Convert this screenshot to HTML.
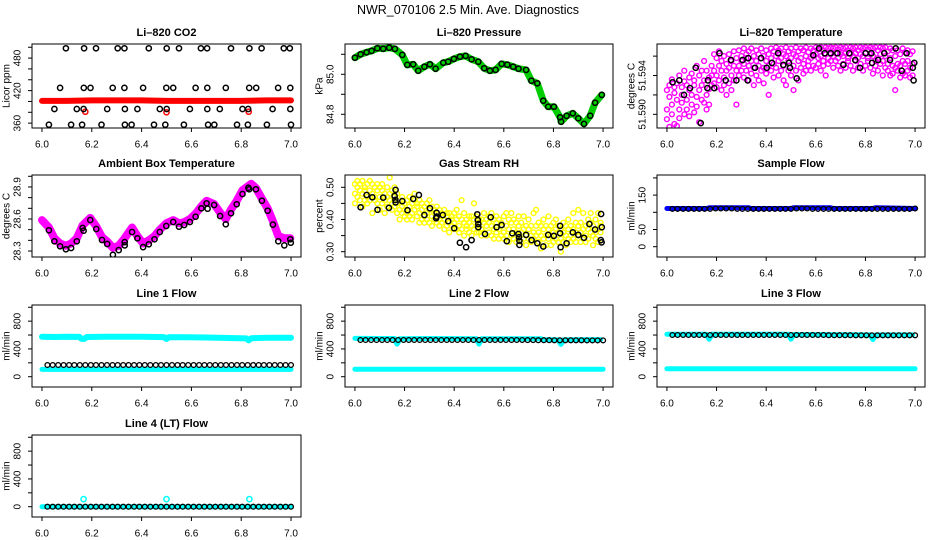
<!DOCTYPE html>
<html><head><meta charset="utf-8"><title>NWR_070106 Diagnostics</title>
<style>
html,body{margin:0;padding:0;background:#fff;}
svg{display:block;font-family:"Liberation Sans",Arial,sans-serif;}
</style></head>
<body>
<svg id="chart" width="936" height="540" viewBox="0 0 936 540" xmlns="http://www.w3.org/2000/svg">
<rect x="0" y="0" width="936" height="540" fill="#fff"/>
<text x="468" y="10" text-anchor="middle" dominant-baseline="central" font-size="12.5">NWR_070106  2.5 Min. Ave. Diagnostics</text>
</svg>
<script>
// ---------------- DATA ----------------
const xTicks = [6.0, 6.2, 6.4, 6.6, 6.8, 7.0];
const xTickLabels = ["6.0", "6.2", "6.4", "6.6", "6.8", "7.0"];

// CO2
const co2RedT = [6.0, 6.1, 6.2, 6.3, 6.4, 6.5, 6.6, 6.7, 6.8, 6.9, 7.0];
const co2RedV = [401, 401, 402, 402, 402, 401, 401, 401, 401, 402, 402];
const co2RedPtsT = [6.174, 6.50, 6.83];
const co2RedPtsV = [381, 380, 381];
const co2BlackT = [6.096,6.169,6.217,6.304,6.331,6.429,6.501,6.550,6.638,6.663,6.759,6.833,6.882,6.971,6.995,
 6.073,6.168,6.195,6.284,6.331,6.406,6.499,6.527,6.617,6.664,6.738,6.832,6.860,6.948,6.997,
 6.050,6.140,6.167,6.262,6.333,6.383,6.473,6.501,6.594,6.664,6.714,6.805,6.828,6.926,6.997,
 6.028,6.117,6.161,6.239,6.333,6.360,6.450,6.495,6.570,6.667,6.692,6.783,6.827,6.903,7.000];
const co2BlackV = [498,498,498,498,498,498,498,498,498,498,498,498,498,498,498,
 425,425,425,425,425,425,425,425,425,425,425,425,425,425,425,
 386,386,386,386,386,386,386,386,386,386,386,386,386,386,386,
 357,357,357,357,357,357,357,357,357,357,357,357,357,357,357];

// Pressure
const presT = [6.000,6.023,6.047,6.067,6.090,6.114,6.138,6.161,6.191,6.211,6.235,6.255,6.280,6.302,6.325,6.356,6.376,6.399,6.423,6.446,6.470,6.497,6.521,6.544,6.567,6.591,6.614,6.638,6.659,6.690,6.711,6.735,6.759,6.779,6.802,6.827,6.831,6.853,6.878,6.900,6.923,6.948,6.968,6.995];
const presV = [85.083,85.100,85.110,85.117,85.130,85.128,85.133,85.127,85.097,85.047,85.050,85.018,85.038,85.050,85.028,85.058,85.063,85.077,85.088,85.092,85.075,85.063,85.030,85.018,85.022,85.052,85.048,85.038,85.028,85.022,84.968,84.955,84.868,84.838,84.838,84.785,84.763,84.792,84.805,84.780,84.752,84.793,84.858,84.897];

// Li-820 temperature
const tempBlackT = [6.023,6.050,6.069,6.093,6.116,6.136,6.163,6.165,6.191,6.212,6.237,6.258,6.280,6.305,6.325,6.328,6.355,6.379,6.402,6.423,6.448,6.469,6.492,6.496,6.523,6.590,6.613,6.636,6.660,6.687,6.711,6.735,6.759,6.778,6.801,6.824,6.827,6.851,6.876,6.899,6.922,6.946,6.966,6.991,6.994,6.997];
const tempBlackV = [51.5933,51.5935,51.5920,51.5927,51.5948,51.5891,51.5927,51.5935,51.5927,51.5963,51.5935,51.5956,51.5935,51.5956,51.5935,51.5958,51.5948,51.5958,51.5948,51.5953,51.5963,51.5951,51.5953,51.5948,51.5937,51.5961,51.5968,51.5963,51.5963,51.5963,51.5951,51.5963,51.5956,51.5948,51.5963,51.5963,51.5953,51.5956,51.5963,51.5956,51.5968,51.5945,51.5963,51.5948,51.5935,51.5953];
const tempCloudT = [6.00,6.01,6.02,6.03,6.04,6.05,6.06,6.07,6.08,6.09,6.10,6.11,6.12,6.13,6.14,6.15,6.16,6.17,6.18,6.19,6.20,6.21,6.22,6.23,6.24,6.25,6.26,6.27,6.28,6.29,6.30,6.31,6.32,6.33,6.34,6.35,6.36,6.37,6.38,6.39,6.40,6.41,6.42,6.43,6.44,6.45,6.46,6.47,6.48,6.49,6.50,6.51,6.52,6.53,6.54,6.55,6.56,6.57,6.58,6.59,6.60,6.61,6.62,6.63,6.64,6.65,6.66,6.67,6.68,6.69,6.70,6.71,6.72,6.73,6.74,6.75,6.76,6.77,6.78,6.79,6.80,6.81,6.82,6.83,6.84,6.85,6.86,6.87,6.88,6.89,6.90,6.91,6.92,6.93,6.94,6.95,6.96,6.97,6.98,6.99];
const tempCloudV = [
[51.5925,51.5905,51.5895],[51.5930,51.5918,51.5887],[51.5936,51.5910,51.5900],[51.5922,51.5890,51.5928],[51.5915,51.5932,51.5888],
[51.5940,51.5905,51.5896],[51.5928,51.5912,51.5920],[51.5934,51.5900,51.5945],[51.5930,51.5915,51.5905],[51.5925,51.5938,51.5898],
[51.5942,51.5910,51.5920],[51.5930,51.5935,51.5902],[51.5950,51.5918,51.5908],[51.5940,51.5925,51.5892],[51.5945,51.5930,51.5915],
[51.5955,51.5935,51.5912],[51.5945,51.5920,51.5905],[51.5938,51.5926,51.5910],[51.5950,51.5940,51.5930],[51.5945,51.5962,51.5932],
[51.5958,51.5940,51.5928],[51.5950,51.5935,51.5965],[51.5945,51.5925,51.5955],[51.5960,51.5938,51.5930],[51.5952,51.5920,51.5945],
[51.5962,51.5948,51.5932],[51.5955,51.5940,51.5925],[51.5965,51.5950,51.5935],[51.5958,51.5945,51.5910],[51.5966,51.5950,51.5940],
[51.5960,51.5945,51.5955],[51.5968,51.5952,51.5938],[51.5958,51.5962,51.5945],[51.5965,51.5950,51.5935],[51.5968,51.5955,51.5942],
[51.5960,51.5948,51.5930],[51.5966,51.5955,51.5940],[51.5962,51.5950,51.5935],[51.5968,51.5958,51.5945],[51.5960,51.5948,51.5932],
[51.5966,51.5955,51.5942],[51.5962,51.5950,51.5920],[51.5968,51.5958,51.5945],[51.5965,51.5952,51.5938],[51.5969,51.5960,51.5948],
[51.5966,51.5955,51.5940],[51.5968,51.5958,51.5945],[51.5962,51.5950,51.5935],[51.5969,51.5960,51.5930],[51.5965,51.5955,51.5945],
[51.5968,51.5958,51.5940],[51.5962,51.5950,51.5925],[51.5969,51.5960,51.5945],[51.5965,51.5955,51.5935],[51.5968,51.5958,51.5948],
[51.5966,51.5952,51.5942],[51.5969,51.5960,51.5945],[51.5964,51.5955,51.5950],[51.5968,51.5958,51.5945],[51.5966,51.5960,51.5950],
[51.5969,51.5962,51.5948],[51.5967,51.5958,51.5952],[51.5969,51.5960,51.5945],[51.5966,51.5955,51.5950],[51.5969,51.5962,51.5940],
[51.5968,51.5958,51.5952],[51.5969,51.5962,51.5955],[51.5968,51.5960,51.5948],[51.5969,51.5963,51.5955],[51.5967,51.5958,51.5950],
[51.5969,51.5962,51.5945],[51.5968,51.5960,51.5952],[51.5969,51.5963,51.5948],[51.5966,51.5958,51.5955],[51.5969,51.5962,51.5950],
[51.5968,51.5960,51.5945],[51.5969,51.5963,51.5955],[51.5966,51.5958,51.5948],[51.5969,51.5962,51.5952],[51.5968,51.5960,51.5945],
[51.5969,51.5963,51.5950],[51.5967,51.5958,51.5955],[51.5969,51.5962,51.5948],[51.5968,51.5960,51.5942],[51.5969,51.5955,51.5950],
[51.5966,51.5958,51.5945],[51.5969,51.5962,51.5952],[51.5968,51.5955,51.5940],[51.5969,51.5960,51.5948],[51.5965,51.5952,51.5945],
[51.5968,51.5958,51.5940],[51.5966,51.5950,51.5942],[51.5960,51.5948,51.5925],[51.5966,51.5952,51.5945],[51.5962,51.5950,51.5938],
[51.5968,51.5955,51.5942],[51.5964,51.5952,51.5940],[51.5966,51.5955,51.5945],[51.5962,51.5948,51.5938],[51.5965,51.5952,51.5940]];

// Ambient box temperature
const ambBlackT = [6.028,6.050,6.073,6.096,6.117,6.140,6.163,6.167,6.194,6.218,6.241,6.262,6.285,6.308,6.332,6.332,6.362,6.383,6.406,6.429,6.452,6.473,6.499,6.527,6.550,6.571,6.594,6.617,6.640,6.661,6.665,6.691,6.715,6.738,6.759,6.782,6.805,6.829,6.832,6.859,6.883,6.906,6.927,6.949,6.973,6.997,6.999];
const ambBlackV = [28.494,28.391,28.344,28.316,28.328,28.391,28.516,28.490,28.591,28.506,28.403,28.366,28.265,28.309,28.353,28.384,28.478,28.419,28.337,28.363,28.410,28.478,28.534,28.572,28.528,28.544,28.572,28.621,28.700,28.747,28.696,28.731,28.628,28.550,28.653,28.738,28.834,28.893,28.878,28.878,28.771,28.678,28.547,28.391,28.353,28.410,28.378];
const ambBandT = [6.000,6.028,6.050,6.073,6.096,6.117,6.140,6.163,6.194,6.218,6.241,6.262,6.285,6.308,6.332,6.362,6.383,6.406,6.429,6.452,6.473,6.499,6.527,6.550,6.571,6.594,6.617,6.640,6.661,6.691,6.715,6.738,6.759,6.782,6.805,6.840,6.859,6.883,6.906,6.927,6.949,6.973,6.997];
const ambBandV = [28.590,28.520,28.420,28.370,28.350,28.370,28.420,28.540,28.610,28.530,28.430,28.390,28.330,28.350,28.420,28.520,28.440,28.370,28.400,28.440,28.500,28.560,28.590,28.560,28.570,28.600,28.650,28.720,28.770,28.740,28.660,28.600,28.690,28.770,28.870,28.930,28.890,28.790,28.700,28.580,28.440,28.420,28.420];

// Gas stream RH
const rhBlackT = [6.023,6.047,6.070,6.091,6.114,6.137,6.160,6.164,6.163,6.164,6.191,6.212,6.235,6.258,6.280,6.302,6.327,6.329,6.329,6.354,6.376,6.400,6.423,6.448,6.470,6.493,6.495,6.497,6.497,6.524,6.547,6.571,6.591,6.612,6.634,6.659,6.661,6.663,6.663,6.690,6.712,6.735,6.759,6.779,6.802,6.827,6.827,6.829,6.853,6.878,6.900,6.923,6.945,6.968,6.992,6.995,6.994,6.991];
const rhBlackV = [0.438,0.476,0.469,0.430,0.468,0.436,0.473,0.492,0.461,0.453,0.457,0.429,0.464,0.476,0.414,0.435,0.404,0.421,0.409,0.414,0.395,0.373,0.328,0.314,0.336,0.416,0.398,0.386,0.376,0.355,0.407,0.376,0.383,0.333,0.357,0.355,0.345,0.334,0.321,0.352,0.336,0.326,0.316,0.352,0.349,0.380,0.357,0.314,0.326,0.360,0.352,0.343,0.386,0.369,0.417,0.376,0.329,0.336];
const rhCloudT = tempCloudT;
const rhCloudV = [
[.48,.51,.45],[.50,.47,.52],[.46,.49,.51],[.52,.48,.44],[.50,.46,.49],[.47,.51,.45],[.49,.52,.46],[.48,.42,.51],[.50,.46,.47],[.45,.51,.49],
[.47,.50,.43],[.49,.45,.51],[.46,.48,.42],[.50,.44,.47],[.53,.46,.48],[.45,.49,.43],[.47,.44,.50],[.45,.48,.42],[.46,.43,.40],[.44,.47,.42],
[.45,.41,.43],[.46,.42,.40],[.44,.47,.41],[.42,.45,.40],[.46,.43,.48],[.44,.41,.45],[.42,.46,.39],[.43,.40,.45],[.41,.44,.39],[.45,.42,.40],
[.43,.46,.39],[.41,.44,.38],[.43,.40,.42],[.42,.39,.44],[.40,.43,.38],[.42,.39,.41],[.40,.43,.37],[.41,.38,.42],[.39,.42,.36],[.41,.38,.40],
[.39,.42,.37],[.40,.37,.43],[.38,.41,.36],[.40,.46,.37],[.39,.42,.35],[.37,.40,.38],[.39,.36,.41],[.38,.41,.35],[.40,.37,.45],[.38,.41,.36],
[.39,.36,.40],[.37,.40,.35],[.39,.42,.36],[.38,.35,.40],[.36,.39,.41],[.38,.35,.42],[.37,.40,.34],[.39,.36,.41],[.37,.40,.34],[.38,.35,.39],
[.36,.41,.34],[.38,.35,.42],[.37,.33,.40],[.35,.39,.42],[.37,.34,.40],[.36,.39,.33],[.38,.35,.41],[.36,.33,.39],[.37,.41,.34],[.35,.38,.32],
[.37,.40,.34],[.35,.38,.33],[.36,.42,.34],[.38,.35,.43],[.36,.33,.39],[.35,.38,.31],[.37,.34,.40],[.35,.32,.38],[.37,.34,.41],[.35,.38,.32],
[.36,.33,.39],[.34,.37,.40],[.36,.33,.38],[.34,.37,.30],[.36,.39,.33],[.35,.38,.32],[.37,.34,.40],[.35,.38,.33],[.37,.34,.42],[.36,.39,.33],
[.38,.35,.43],[.36,.39,.33],[.37,.34,.42],[.35,.38,.33],[.37,.40,.34],[.36,.39,.42],[.38,.35,.32],[.36,.40,.34],[.37,.42,.33],[.36,.39,.38]];

// Flows
const flowT = [6.022,6.043,6.065,6.087,6.109,6.130,6.152,6.174,6.196,6.217,6.239,6.261,6.283,6.304,6.326,6.348,6.370,6.391,6.413,6.435,6.457,6.478,6.500,6.522,6.544,6.565,6.587,6.609,6.631,6.652,6.674,6.696,6.718,6.739,6.761,6.783,6.804,6.826,6.848,6.870,6.891,6.913,6.935,6.957,6.978,7.000];
const sampleBlackV = [110,110,110,110,110,110,110,110,111,111,111,111,110,110,110,110,110,110,110,110,110,110,110,111,111,111,110,110,110,110,110,110,110,110,110,110,110,110,110,110,110,110,110,110,110,111];
const sampleBandT = [6.0,6.16,6.17,6.33,6.34,6.5,6.51,6.66,6.67,6.83,6.84,7.0];
const sampleBandV = [111,111,113,113,111,111,113,113,111,111,113,111];
const line1BlackV = [168,168,168,168,168,168,168,168,168,168,168,168,168,168,168,168,168,168,168,168,168,168,168,168,168,168,168,168,168,168,168,168,168,168,168,168,168,168,168,168,168,168,168,168,168,168];
const line1HighT = [6.0,6.05,6.10,6.15,6.16,6.17,6.18,6.25,6.33,6.40,6.49,6.50,6.51,6.58,6.66,6.75,6.82,6.83,6.84,6.90,7.0];
const line1HighV = [575,572,574,573,545,545,572,575,576,575,570,545,570,568,565,558,552,525,555,560,560];
const line1LowT = [6.0,7.0];
const line1LowV = [106,106];
const line2BlackV = [528,528,528,528,528,528,528,528,528,528,528,528,528,528,528,528,528,528,528,528,528,528,528,528,528,528,528,528,528,528,528,527,527,526,526,526,525,525,525,524,524,524,523,523,523,523];
const line2HighT = [6.0,6.10,6.16,6.165,6.17,6.175,6.18,6.30,6.49,6.495,6.50,6.505,6.51,6.65,6.75,6.76,6.82,6.825,6.83,6.835,6.84,6.99];
const line2HighV = [552,550,550,500,470,500,548,550,548,500,470,500,548,548,548,535,532,490,465,490,532,535];
const line2LowT = [6.0,7.0];
const line2LowV = [108,108];
const line3BlackV = [600,600,600,600,600,600,600,600,600,600,600,600,600,600,600,600,600,600,600,600,600,600,600,600,600,600,600,600,600,598,598,598,598,598,597,597,597,597,597,597,597,597,597,597,597,597];
const line3HighT = [6.0,6.10,6.16,6.165,6.17,6.175,6.18,6.30,6.49,6.495,6.50,6.505,6.51,6.65,6.82,6.825,6.83,6.835,6.84,6.99];
const line3HighV = [610,612,610,570,540,570,610,610,610,570,540,570,608,606,602,565,535,565,602,602];
const line3LowT = [6.0,7.0];
const line3LowV = [115,115];
const line4BlackV = [0,0,0,0,0,0,0,0,0,0,0,0,0,0,0,0,0,0,0,0,0,0,0,0,0,0,0,0,0,0,0,0,0,0,0,0,0,0,0,0,0,0,0,0,0,0];
const line4BandT = [6.0,7.0];
const line4BandV = [0,0];
const line4SpikeT = [6.167,6.500,6.833];
const line4SpikeV = [110,110,110];

// ---------------- DRAWING ----------------
const NS = 'http://www.w3.org/2000/svg';
const svg = document.getElementById('chart');
function mk(tag, attrs, parent) {
  const e = document.createElementNS(NS, tag);
  for (const k in attrs) e.setAttribute(k, attrs[k]);
  (parent || svg).appendChild(e);
  return e;
}
const XDOM = [5.96, 7.04];
const COLS = [[32, 301], [345, 613], [657, 925]];
const ROWS = [[44, 128], [175, 257], [305, 387], [435, 517]];

function panel(p) {
  const [x0, x1] = COLS[p.col];
  const [y0, y1] = ROWS[p.row];
  const g = mk('g', {});
  
  
  const sx = v => x0 + (v - XDOM[0]) / (XDOM[1] - XDOM[0]) * (x1 - x0);
  const sy = v => y1 - (v - p.ydom[0]) / (p.ydom[1] - p.ydom[0]) * (y1 - y0);
  const clipId = 'clip-' + p.name;
  const cp = mk('clipPath', { id: clipId }, g);
  mk('rect', { x: x0, y: y0, width: x1 - x0, height: y1 - y0 }, cp);
  const plot = mk('g', { 'clip-path': 'url(#' + clipId + ')' }, g);
  
  

  const box = mk('rect', { x: x0, y: y0, width: x1 - x0, height: y1 - y0, fill: 'none', stroke: '#000', 'stroke-width': 1 }, g);
  
  

  const title = mk('text', { x: (x0 + x1) / 2, y: y0 - 11, 'text-anchor': 'middle', 'dominant-baseline': 'central', 'font-size': 11, 'font-weight': 'bold' }, g);
  title.textContent = p.title;
  
  

  const yl = mk('text', { x: x0 - 25, y: (y0 + y1) / 2, 'text-anchor': 'middle', 'dominant-baseline': 'central', 'font-size': 10, transform: 'rotate(-90 ' + (x0 - 25) + ' ' + ((y0 + y1) / 2) + ')' }, g);
  yl.textContent = p.ylab;
  
  

  xTicks.forEach((t, i) => {
    const tk = mk('line', { x1: sx(t), x2: sx(t), y1: y1, y2: y1 + 4, stroke: '#000' }, g);
    
    
    const lb = mk('text', { x: sx(t), y: y1 + 17, 'text-anchor': 'middle', 'dominant-baseline': 'central', 'font-size': 10 }, g);
    lb.textContent = xTickLabels[i];
    
    
  });
  p.yticks.forEach(t => {
    const tk = mk('line', { x1: x0 - 4, x2: x0, y1: sy(t), y2: sy(t), stroke: '#000' }, g);
    
    
  });
  p.ylabels.forEach((t, i) => {
    const yy = sy(t), xx = x0 - 14;
    const lb = mk('text', { x: xx, y: yy, 'text-anchor': 'middle', 'dominant-baseline': 'central', 'font-size': 10, transform: 'rotate(-90 ' + xx + ' ' + yy + ')' }, g);
    lb.textContent = p.ylabelText[i];
    
    
  });
  return { sx, sy, plot };
}

function band(P, ts, vs, color, w, name) {
  const d = ts.map((t, i) => (i ? 'L' : 'M') + P.sx(t).toFixed(1) + ' ' + P.sy(vs[i]).toFixed(1)).join(' ');
  const e = mk('path', { d: d, fill: 'none', stroke: color, 'stroke-width': w, 'stroke-linejoin': 'round', 'stroke-linecap': 'round' }, P.plot);
  
  
}
function circles(P, ts, vs, color, name, r, sw) {
  ts.forEach((t, i) => {
    const c = mk('circle', { cx: P.sx(t).toFixed(1), cy: P.sy(vs[i]).toFixed(1), r: r || 2.6, fill: 'none', stroke: color, 'stroke-width': sw || 1.5 }, P.plot);
    
    
  });
}
function cloud(P, ts, vv, color, name) {
  ts.forEach((t, i) => {
    vv[i].forEach(v => {
      const c = mk('circle', { cx: P.sx(t).toFixed(1), cy: P.sy(v).toFixed(1), r: 2.4, fill: 'none', stroke: color, 'stroke-width': 1.4 }, P.plot);
      
      
    });
  });
}

// Panel 1: CO2
let P = panel({ name: 'co2', title: 'Li\u2013820 CO2', ylab: 'Licor ppm', col: 0, row: 0, ydom: [351, 506],
  yticks: [360, 380, 400, 420, 440, 460, 480, 500], ylabels: [360, 420, 480], ylabelText: ['360', '420', '480'] });
band(P, co2RedT, co2RedV, '#ff0000', 6, 'co2-red-series');
circles(P, co2RedPtsT, co2RedPtsV, '#ff0000', 'co2-red-point');
circles(P, co2BlackT, co2BlackV, '#000', 'co2-black-point');

// Panel 2: Pressure
P = panel({ name: 'pressure', title: 'Li\u2013820 Pressure', ylab: 'kPa', col: 1, row: 0, ydom: [84.7315, 85.1515],
  yticks: [84.8, 84.9, 85.0, 85.1], ylabels: [84.8, 85.0], ylabelText: ['84.8', '85.0'] });
band(P, presT, presV, '#00cc00', 7, 'pressure-green-series');
circles(P, presT, presV, '#000', 'pressure-black-point');

// Panel 3: Li-820 Temperature
P = panel({ name: 'licor-temp', title: 'Li\u2013820 Temperature', ylab: 'degrees C', col: 2, row: 0, ydom: [51.58859, 51.59725],
  yticks: [51.590, 51.592, 51.594, 51.596], ylabels: [51.590, 51.594], ylabelText: ['51.590', '51.594'] });
cloud(P, tempCloudT, tempCloudV, '#ff00ff', 'licor-temp-magenta-point');
circles(P, tempBlackT, tempBlackV, '#000', 'licor-temp-black-point');

// Panel 4: Ambient box temperature
P = panel({ name: 'ambient-temp', title: 'Ambient Box Temperature', ylab: 'degrees C', col: 0, row: 1, ydom: [28.244, 29.012],
  yticks: [28.3, 28.4, 28.5, 28.6, 28.7, 28.8, 28.9, 29.0], ylabels: [28.3, 28.6, 28.9], ylabelText: ['28.3', '28.6', '28.9'] });
band(P, ambBandT, ambBandV, '#ff00ff', 8, 'ambient-temp-magenta-series');
circles(P, ambBlackT, ambBlackV, '#000', 'ambient-temp-black-point');

// Panel 5: Gas stream RH
P = panel({ name: 'gas-rh', title: 'Gas Stream RH', ylab: 'percent', col: 1, row: 1, ydom: [0.2835, 0.5382],
  yticks: [0.30, 0.35, 0.40, 0.45, 0.50], ylabels: [0.30, 0.40, 0.50], ylabelText: ['0.30', '0.40', '0.50'] });
cloud(P, rhCloudT, rhCloudV, '#ffff00', 'gas-rh-yellow-point');
circles(P, rhBlackT, rhBlackV, '#000', 'gas-rh-black-point');

// Panel 6: Sample flow
P = panel({ name: 'sample-flow', title: 'Sample Flow', ylab: 'ml/min', col: 2, row: 1, ydom: [-29.9, 208.4],
  yticks: [0, 50, 100, 150, 200], ylabels: [0, 50, 150], ylabelText: ['0', '50', '150'] });
band(P, sampleBandT, sampleBandV, '#0000ff', 5, 'sample-flow-blue-series');
circles(P, flowT, sampleBlackV, '#000', 'sample-flow-black-point', 2.4, 1.3);

const flowTicks = [0, 200, 400, 600, 800, 1000];
const flowLabelVals = [0, 400, 800];
const flowLabelText = ['0', '400', '800'];
// Panel 7: Line 1
P = panel({ name: 'line1-flow', title: 'Line 1 Flow', ylab: 'ml/min', col: 0, row: 2, ydom: [-148, 1032.5],
  yticks: flowTicks, ylabels: flowLabelVals, ylabelText: flowLabelText });
band(P, line1HighT, line1HighV, '#00ffff', 6, 'line1-cyan-high-series');
band(P, line1LowT, line1LowV, '#00ffff', 5, 'line1-cyan-low-series');
circles(P, flowT, line1BlackV, '#000', 'line1-black-point', 2.4, 1.3);

// Panel 8: Line 2
P = panel({ name: 'line2-flow', title: 'Line 2 Flow', ylab: 'ml/min', col: 1, row: 2, ydom: [-148, 1032.5],
  yticks: flowTicks, ylabels: flowLabelVals, ylabelText: flowLabelText });
band(P, line2HighT, line2HighV, '#00ffff', 5, 'line2-cyan-high-series');
band(P, line2LowT, line2LowV, '#00ffff', 5, 'line2-cyan-low-series');
circles(P, flowT, line2BlackV, '#000', 'line2-black-point', 2.4, 1.3);

// Panel 9: Line 3
P = panel({ name: 'line3-flow', title: 'Line 3 Flow', ylab: 'ml/min', col: 2, row: 2, ydom: [-148, 1032.5],
  yticks: flowTicks, ylabels: flowLabelVals, ylabelText: flowLabelText });
band(P, line3HighT, line3HighV, '#00ffff', 5, 'line3-cyan-high-series');
band(P, line3LowT, line3LowV, '#00ffff', 5, 'line3-cyan-low-series');
circles(P, flowT, line3BlackV, '#000', 'line3-black-point', 2.4, 1.3);

// Panel 10: Line 4 (LT)
P = panel({ name: 'line4-flow', title: 'Line 4 (LT) Flow', ylab: 'ml/min', col: 0, row: 3, ydom: [-148, 1032.5],
  yticks: flowTicks, ylabels: flowLabelVals, ylabelText: flowLabelText });
band(P, line4BandT, line4BandV, '#00ffff', 5, 'line4-cyan-series');
circles(P, line4SpikeT, line4SpikeV, '#00ffff', 'line4-cyan-point');
circles(P, flowT, line4BlackV, '#000', 'line4-black-point', 2.4, 1.3);
</script>
</body></html>
